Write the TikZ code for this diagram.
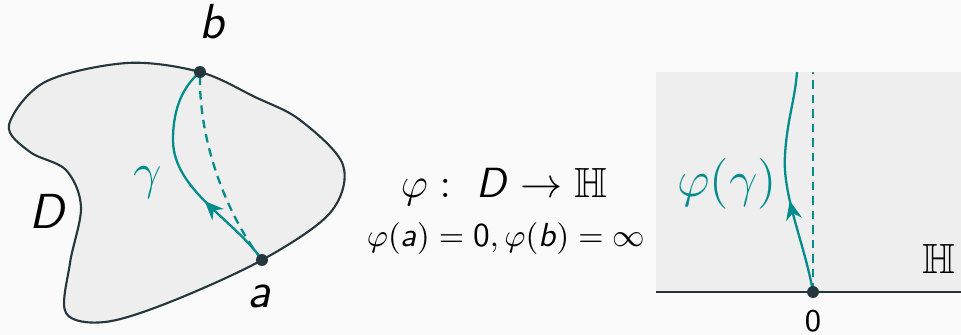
\documentclass[tikz,border=0pt]{standalone}
\usepackage{amsmath,amssymb}
\usepackage{fontspec}
\usepackage{tikz}
\usetikzlibrary{arrows.meta,decorations.markings}
\definecolor{pagebg}{RGB}{250,250,250}
\definecolor{regfill}{RGB}{238,238,238}
\definecolor{dkline}{RGB}{35,55,60}
\definecolor{gteal}{RGB}{0,140,140}
\newcommand{\sv}[1]{\textsf{\itshape #1}}
\tikzset{
  bdry/.style     = {draw=dkline,line width=0.6pt,fill=regfill},
  axisline/.style = {dkline,line width=0.85pt},
  gpath/.style    = {gteal,line width=0.65pt,postaction={decorate},
                     decoration={markings,mark=at position #1 with
                       {\arrow{Stealth[length=1.9mm,width=1.6mm]}}}},
  gdash/.style    = {gteal,line width=0.65pt,dash pattern=on 0.85mm off 0.6mm},
  ptdot/.style    = {fill=dkline},
  biglbl/.style   = {font=\fontsize{14}{16}\selectfont,anchor=base},
  midlbl/.style   = {font=\fontsize{12}{14}\selectfont,anchor=base},
  smllbl/.style   = {font=\fontsize{9.5}{11}\selectfont,anchor=base}
}
\begin{document}
\begin{tikzpicture}
  \useasboundingbox (0,0) rectangle (9.61,3.35);
  \fill[pagebg] (0,0) rectangle (9.61,3.35);
  % domain D
  \coordinate (a) at (2.62,0.75);
  \coordinate (b) at (2.00,2.63);
  \draw[bdry] plot[smooth cycle,tension=0.55] coordinates {
    (b) (1.27,2.72) (0.45,2.53) (0.09,2.10) (0.30,1.83) (0.66,1.65)
    (0.81,1.28) (0.70,0.72) (0.66,0.22) (1.05,0.13) (1.70,0.33) (a)
    (3.30,1.22) (3.43,1.70) (3.00,2.15) (2.55,2.38)};
  \draw[gdash] (a) .. controls (2.30,1.15) and (1.98,1.90) .. (b);
  \draw[gpath=0.36] (a) .. controls (2.35,1.15) and (1.73,1.45) .. (1.73,1.95)
                        .. controls (1.73,2.30) and (1.85,2.50) .. (b);
  \fill[ptdot] (a) circle (1.7pt);
  \fill[ptdot] (b) circle (1.7pt);
  \node[biglbl] (alab) at (2.59,0.27) {\sv{a}};
  \node[biglbl] (blab) at (2.13,2.96) {\sv{b}};
  \node[biglbl] (Dlab) at (0.485,1.06) {\sv{D}};
  \node[biglbl,text=gteal] (glab) at (1.475,1.46) {$\gamma$};
  % the map
  \node[midlbl] (map) at (5.04,1.37) {$\varphi : \ \text{\sv{D}} \to \mathbb{H}$};
  \node[smllbl] (norm) at (5.06,0.88)
    {$\varphi(\text{\sv{a}}) = \textsf{0}, \varphi(\text{\sv{b}}) = \infty$};
  % upper half plane
  \coordinate (axl) at (6.56,0.43);
  \coordinate (axr) at (9.61,0.43);
  \coordinate (zero) at (8.13,0.43);
  \coordinate (inf) at (8.13,2.63);
  \coordinate (gtop) at (7.97,2.63);
  \fill[regfill] (axl) rectangle (9.61,2.63);
  \draw[axisline] (axl) -- (axr);
  \draw[gdash] (zero) -- (inf);
  \draw[gpath=0.42] (zero) .. controls (8.05,0.90) and (7.82,1.40) .. (7.85,1.80)
                           .. controls (7.87,2.15) and (7.95,2.35) .. (gtop);
  \fill[ptdot] (zero) circle (1.7pt);
  \node[biglbl,text=gteal,anchor=center] (pglab) at (7.27,1.51) {$\varphi(\gamma)$};
  \node[font=\fontsize{12}{14}\selectfont,anchor=base] (Hlab) at (9.385,0.61) {$\mathbb{H}$};
  \node[font=\sffamily\fontsize{9}{11}\selectfont,anchor=base] (zlab) at (8.13,0.03) {0};
\end{tikzpicture}
\end{document}
